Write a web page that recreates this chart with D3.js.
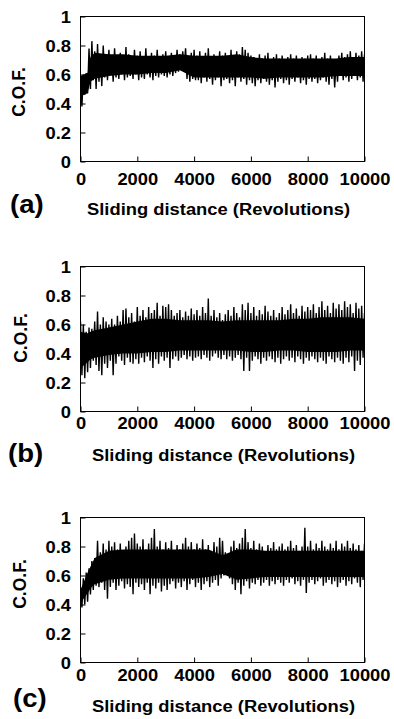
<!DOCTYPE html>
<html>
<head>
<meta charset="utf-8">
<script src="https://cdn.jsdelivr.net/npm/d3@7"></script>
<style>
  body { margin: 0; background: #fff; }
  svg { display: block; }
  text { font-family: "Liberation Sans", Arial, sans-serif; font-weight: bold; fill: #000; }
</style>
</head>
<body>
<svg id="chart" width="394" height="719"></svg>
<script>
// sliding distance of each spike sample (revolutions)
const distance = d3.range(0, 10001, 100);
// sliding distance of the dense core band samples
const coreDistance = [0, 250, 350, 500, 1000, 1500, 2000, 2500, 3000, 3500, 4000, 4500,
  5000, 5500, 6000, 6500, 7000, 7500, 8000, 8500, 9000, 9500, 10000];
const xTicks = [0, 2000, 4000, 6000, 8000, 10000];
const yTicks = [0, 0.2, 0.4, 0.6, 0.8, 1];
const panelTags = ["(a)", "(b)", "(c)"];

// upper / lower spikes of the friction trace
const aHigh = [0.58,
  0.60, 0.61, 0.78, 0.83, 0.76, 0.81, 0.74, 0.80, 0.72, 0.77,
  0.73, 0.78, 0.70, 0.75, 0.72, 0.79, 0.74, 0.71, 0.77, 0.73,
  0.76, 0.72, 0.78, 0.70, 0.75, 0.73, 0.77, 0.71, 0.74, 0.76,
  0.72, 0.75, 0.70, 0.77, 0.74, 0.76, 0.78, 0.72, 0.75, 0.77,
  0.73, 0.76, 0.71, 0.75, 0.78, 0.72, 0.74, 0.70, 0.76, 0.73,
  0.75, 0.71, 0.77, 0.73, 0.76, 0.74, 0.79, 0.77, 0.75, 0.73,
  0.72, 0.70, 0.74, 0.71, 0.73, 0.75, 0.70, 0.72, 0.74, 0.71,
  0.73, 0.70, 0.72, 0.74, 0.71, 0.73, 0.70, 0.72, 0.71, 0.73,
  0.74, 0.71, 0.73, 0.70, 0.72, 0.75, 0.71, 0.73, 0.70, 0.69,
  0.73, 0.75, 0.72, 0.74, 0.76, 0.72, 0.75, 0.73, 0.76, 0.74];
const aLow = [0.38,
  0.46, 0.47, 0.50, 0.56, 0.50, 0.55, 0.52, 0.58, 0.56, 0.60,
  0.55, 0.58, 0.57, 0.60, 0.56, 0.58, 0.59, 0.57, 0.60, 0.56,
  0.58, 0.57, 0.60, 0.58, 0.56, 0.59, 0.58, 0.60, 0.59, 0.58,
  0.60, 0.59, 0.61, 0.62, 0.63, 0.65, 0.57, 0.55, 0.57, 0.56,
  0.56, 0.54, 0.58, 0.55, 0.57, 0.53, 0.56, 0.58, 0.52, 0.56,
  0.57, 0.54, 0.56, 0.52, 0.58, 0.55, 0.57, 0.53, 0.56, 0.54,
  0.52, 0.56, 0.54, 0.57, 0.55, 0.53, 0.56, 0.51, 0.55, 0.57,
  0.54, 0.56, 0.53, 0.57, 0.55, 0.58, 0.54, 0.56, 0.53, 0.57,
  0.55, 0.57, 0.54, 0.56, 0.58, 0.55, 0.53, 0.57, 0.51, 0.55,
  0.60, 0.56, 0.58, 0.55, 0.57, 0.59, 0.56, 0.58, 0.55, 0.57];
// solid band of the trace
const aCoreHigh = [0.59, 0.61, 0.72, 0.75, 0.74, 0.74, 0.73, 0.73, 0.73, 0.74, 0.73, 0.73,
  0.73, 0.74, 0.72, 0.71, 0.71, 0.71, 0.71, 0.71, 0.71, 0.72, 0.72];
const aCoreLow = [0.45, 0.47, 0.55, 0.57, 0.59, 0.60, 0.60, 0.61, 0.61, 0.63, 0.58, 0.58,
  0.58, 0.58, 0.58, 0.57, 0.58, 0.58, 0.58, 0.58, 0.59, 0.59, 0.59];

const bHigh = [0.62,
  0.60, 0.55, 0.58, 0.57, 0.62, 0.69, 0.60, 0.65, 0.62, 0.60,
  0.64, 0.60, 0.66, 0.62, 0.70, 0.71, 0.65, 0.68, 0.62, 0.72,
  0.66, 0.70, 0.65, 0.72, 0.68, 0.70, 0.75, 0.66, 0.73, 0.72,
  0.74, 0.70, 0.66, 0.68, 0.70, 0.65, 0.69, 0.66, 0.71, 0.67,
  0.70, 0.66, 0.72, 0.68, 0.78, 0.66, 0.70, 0.65, 0.68, 0.63,
  0.67, 0.70, 0.66, 0.72, 0.68, 0.65, 0.74, 0.70, 0.75, 0.68,
  0.72, 0.66, 0.70, 0.67, 0.73, 0.69, 0.66, 0.70, 0.65, 0.68,
  0.72, 0.67, 0.70, 0.74, 0.68, 0.71, 0.66, 0.73, 0.69, 0.72,
  0.70, 0.74, 0.68, 0.72, 0.76, 0.70, 0.73, 0.68, 0.75, 0.71,
  0.74, 0.70, 0.76, 0.72, 0.74, 0.68, 0.75, 0.71, 0.73, 0.68];
const bLow = [0.25,
  0.23, 0.27, 0.30, 0.35, 0.32, 0.28, 0.25, 0.33, 0.30, 0.35,
  0.25, 0.33, 0.38, 0.35, 0.32, 0.37, 0.34, 0.33, 0.36, 0.33,
  0.37, 0.34, 0.38, 0.35, 0.30, 0.36, 0.33, 0.38, 0.35, 0.37,
  0.30, 0.36, 0.38, 0.35, 0.37, 0.39, 0.36, 0.38, 0.35, 0.37,
  0.38, 0.36, 0.39, 0.37, 0.35, 0.38, 0.40, 0.37, 0.36, 0.39,
  0.36, 0.38, 0.35, 0.37, 0.39, 0.36, 0.28, 0.37, 0.28, 0.35,
  0.38, 0.36, 0.33, 0.37, 0.35, 0.38, 0.36, 0.34, 0.37, 0.33,
  0.36, 0.38, 0.35, 0.37, 0.34, 0.38, 0.36, 0.33, 0.37, 0.35,
  0.38, 0.36, 0.34, 0.37, 0.35, 0.33, 0.38, 0.36, 0.34, 0.37,
  0.35, 0.33, 0.37, 0.34, 0.38, 0.28, 0.35, 0.32, 0.37, 0.34];
const bCoreHigh = [0.55, 0.54, 0.55, 0.56, 0.58, 0.60, 0.62, 0.64, 0.64, 0.63, 0.63, 0.63,
  0.62, 0.63, 0.63, 0.63, 0.63, 0.64, 0.64, 0.65, 0.65, 0.65, 0.64];
const bCoreLow = [0.30, 0.34, 0.36, 0.37, 0.39, 0.40, 0.40, 0.41, 0.41, 0.42, 0.42, 0.42,
  0.42, 0.42, 0.41, 0.41, 0.42, 0.42, 0.41, 0.41, 0.41, 0.42, 0.42];

const cHigh = [0.52,
  0.58, 0.62, 0.65, 0.70, 0.72, 0.84, 0.76, 0.82, 0.78, 0.84,
  0.80, 0.83, 0.78, 0.82, 0.76, 0.80, 0.84, 0.86, 0.89, 0.82,
  0.80, 0.85, 0.78, 0.82, 0.86, 0.92, 0.80, 0.84, 0.78, 0.83,
  0.79, 0.84, 0.77, 0.81, 0.78, 0.82, 0.86, 0.80, 0.83, 0.78,
  0.82, 0.79, 0.85, 0.78, 0.81, 0.77, 0.83, 0.80, 0.86, 0.84,
  0.76, 0.75, 0.80, 0.84, 0.79, 0.82, 0.86, 0.92, 0.83, 0.79,
  0.84, 0.78, 0.82, 0.80, 0.76, 0.81, 0.79, 0.83, 0.78, 0.80,
  0.82, 0.78, 0.80, 0.84, 0.79, 0.81, 0.77, 0.80, 0.93, 0.80,
  0.84, 0.78, 0.82, 0.79, 0.84, 0.80, 0.78, 0.82, 0.79, 0.84,
  0.78, 0.82, 0.80, 0.84, 0.79, 0.82, 0.78, 0.81, 0.77, 0.82];
const cLow = [0.38,
  0.40, 0.42, 0.47, 0.50, 0.53, 0.52, 0.55, 0.50, 0.44, 0.52,
  0.55, 0.50, 0.53, 0.56, 0.51, 0.54, 0.52, 0.47, 0.55, 0.52,
  0.54, 0.50, 0.55, 0.47, 0.53, 0.51, 0.55, 0.49, 0.53, 0.50,
  0.54, 0.56, 0.51, 0.55, 0.52, 0.56, 0.50, 0.54, 0.57, 0.52,
  0.55, 0.50, 0.54, 0.56, 0.52, 0.55, 0.57, 0.53, 0.58, 0.60,
  0.62, 0.58, 0.54, 0.50, 0.55, 0.47, 0.53, 0.56, 0.51, 0.55,
  0.54, 0.57, 0.53, 0.55, 0.57, 0.53, 0.56, 0.54, 0.57, 0.55,
  0.53, 0.57, 0.55, 0.58, 0.54, 0.56, 0.53, 0.57, 0.48, 0.55,
  0.57, 0.54, 0.56, 0.58, 0.53, 0.55, 0.57, 0.54, 0.56, 0.52,
  0.55, 0.57, 0.53, 0.56, 0.54, 0.58, 0.55, 0.52, 0.57, 0.60];
const cCoreHigh = [0.50, 0.62, 0.66, 0.72, 0.77, 0.78, 0.78, 0.78, 0.78, 0.78, 0.78, 0.78,
  0.74, 0.78, 0.78, 0.77, 0.77, 0.77, 0.77, 0.77, 0.77, 0.77, 0.77];
const cCoreLow = [0.41, 0.48, 0.51, 0.54, 0.57, 0.58, 0.58, 0.58, 0.58, 0.58, 0.58, 0.59,
  0.61, 0.57, 0.58, 0.59, 0.59, 0.59, 0.59, 0.59, 0.59, 0.59, 0.59];

const highs = [aHigh, bHigh, cHigh];
const lows = [aLow, bLow, cLow];
const coreHighs = [aCoreHigh, bCoreHigh, cCoreHigh];
const coreLows = [aCoreLow, bCoreLow, cCoreLow];

// per-panel placement
const panels = [
  { top: 16.5,  tickY: 24, labelX: 87, labelY: 215, tagX: 10, tagY: 213, yLabX: 25, yLabY: 92 },
  { top: 266.5, tickY: 18, labelX: 92, labelY: 461, tagX: 8,  tagY: 462, yLabX: 27, yLabY: 338 },
  { top: 517.5, tickY: 19, labelX: 92, labelY: 712, tagX: 13, tagY: 707, yLabX: 26, yLabY: 584 }
];
const left = 80.5, right = 364.5, plotH = 145;
const stretch = "scale(1.08,1)";

const svg = d3.select("#chart");

const x = d3.scaleLinear().domain([0, 10000]).range([left, right]);

panels.forEach((p, k) => {
  const bottom = p.top + plotH;
  const y = d3.scaleLinear().domain([0, 1]).range([bottom, p.top]);
  const g = svg.append("g");

  g.append("clipPath").attr("id", "clip" + k)
    .append("rect")
    .attr("x", left).attr("y", p.top - 20)
    .attr("width", right - left).attr("height", plotH + 20);

  // dense core of the trace
  const area = d3.area()
    .x((d, i) => x(coreDistance[i]))
    .y0((d, i) => y(coreLows[k][i]))
    .y1(d => y(d));
  g.append("path")
    .datum(coreHighs[k])
    .attr("clip-path", `url(#clip${k})`)
    .attr("fill", "#000")
    .attr("d", area);

  // spikes: zigzag between the upper and lower readings
  const pts = [];
  distance.forEach((d, i) => {
    pts.push([d, highs[k][i]]);
    pts.push([d + 50, lows[k][i]]);
  });
  const line = d3.line().x(d => x(d[0])).y(d => y(d[1]));
  g.append("path")
    .datum(pts)
    .attr("clip-path", `url(#clip${k})`)
    .attr("fill", "none")
    .attr("stroke", "#000")
    .attr("stroke-width", 1.4)
    .attr("d", line);

  // frame
  g.append("rect")
    .attr("x", left).attr("y", p.top)
    .attr("width", right - left).attr("height", plotH)
    .attr("fill", "none").attr("stroke", "#000").attr("stroke-width", 1);

  // x axis
  const xa = g.append("g")
    .attr("transform", `translate(0,${bottom})`)
    .call(d3.axisBottom(x).tickValues(xTicks).tickSize(-5).tickSizeOuter(0).tickFormat(d3.format("d")));
  xa.select(".domain").remove();
  xa.attr("font-size", 17);
  xa.selectAll("text").attr("y", p.tickY).attr("dy", null).attr("transform", stretch);

  // y axis
  const ya = g.append("g")
    .attr("transform", `translate(${left},0)`)
    .call(d3.axisLeft(y).tickValues(yTicks).tickSize(-5).tickSizeOuter(0).tickFormat(d => d === 0 || d === 1 ? d : d.toFixed(1)));
  ya.select(".domain").remove();
  ya.attr("font-size", 17);
  ya.selectAll("text").attr("x", -8.8).attr("dy", "0.36em").attr("transform", stretch);

  g.append("text")
    .attr("transform", `translate(${p.yLabX},${p.yLabY}) rotate(-90)`)
    .attr("text-anchor", "middle")
    .attr("font-size", 17.5)
    .text("C.O.F.");

  g.append("text")
    .attr("transform", `translate(${p.labelX},${p.labelY}) ${stretch}`)
    .attr("font-size", 17)
    .text("Sliding distance (Revolutions)");

  g.append("text")
    .attr("transform", `translate(${p.tagX},${p.tagY}) ${stretch}`)
    .attr("font-size", 25.5)
    .text(panelTags[k]);
});
</script>
</body>
</html>
